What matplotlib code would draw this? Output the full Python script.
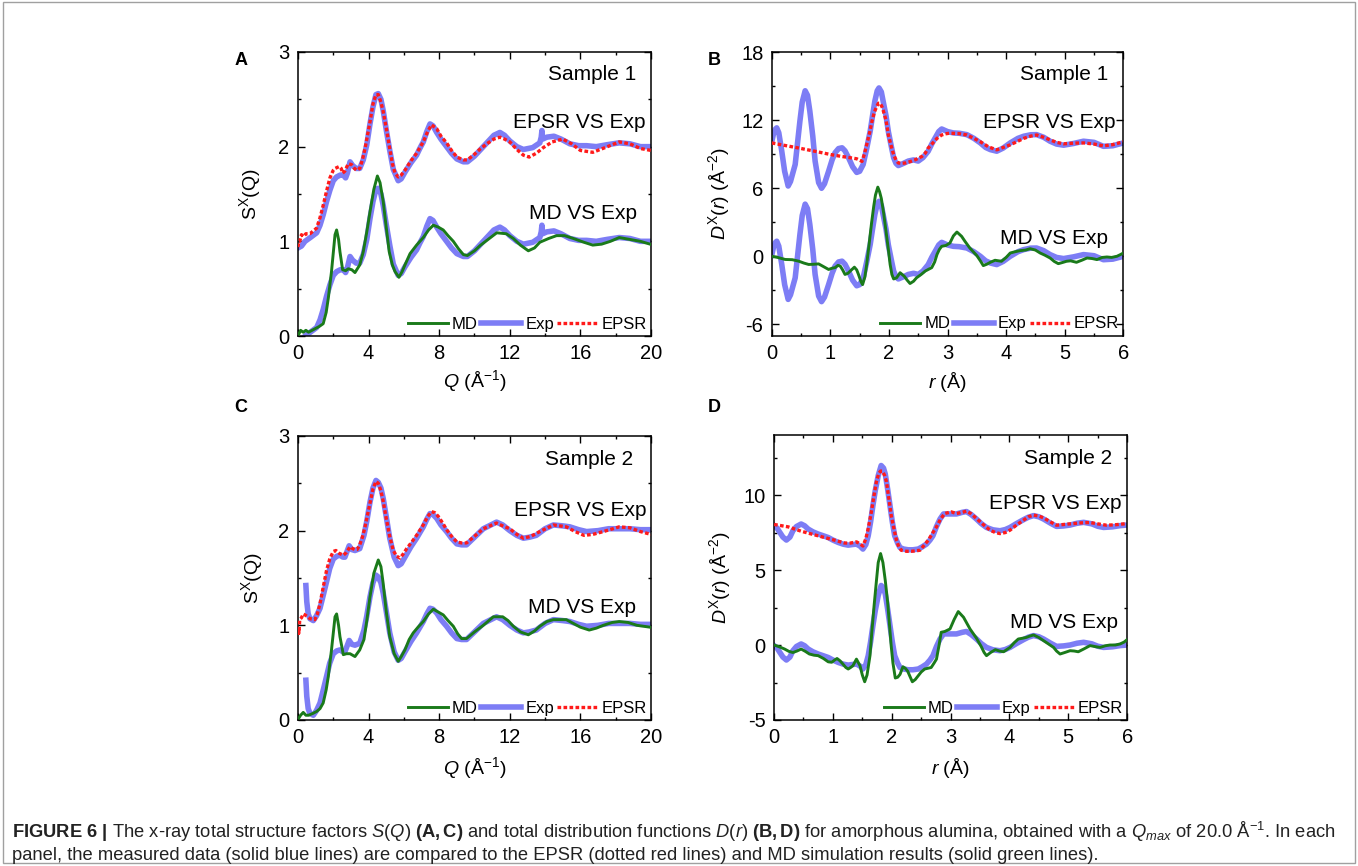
# -*- coding: utf-8 -*-
import numpy as np
import matplotlib
matplotlib.use('Agg')
import matplotlib.pyplot as plt
from matplotlib.patches import Rectangle
from matplotlib.ticker import MultipleLocator, AutoMinorLocator

### data: (x, y) pairs, upper curves are shifted by an offset

# S(Q), sample 1
md_A = np.array([
    (0.05, 0.02), (0.15, 0.06), (0.3, 0.04), (0.45, 0.06), (0.6, 0.04), (0.8, 0.06),
    (1.0, 0.08), (1.2, 0.10), (1.43, 0.13), (1.6, 0.25), (1.72, 0.40), (1.9, 0.68),
    (2.1, 1.07), (2.19, 1.12), (2.3, 1.02), (2.38, 0.89), (2.53, 0.70), (2.7, 0.69),
    (2.85, 0.71), (3.05, 0.70), (3.23, 0.67), (3.5, 0.75), (3.7, 0.89), (3.9, 1.10),
    (4.08, 1.31), (4.3, 1.55), (4.5, 1.69), (4.65, 1.62), (4.83, 1.42), (5.0, 1.15),
    (5.17, 0.89), (5.35, 0.75), (5.5, 0.68), (5.72, 0.62), (5.9, 0.68), (6.06, 0.75),
    (6.35, 0.87), (6.72, 0.96), (7.1, 1.04), (7.4, 1.12), (7.67, 1.17), (7.95, 1.15),
    (8.23, 1.12), (8.5, 1.06), (8.8, 1.00), (9.1, 0.92), (9.37, 0.86), (9.6, 0.85),
    (10.0, 0.90), (10.35, 0.96), (10.7, 1.01), (11.26, 1.09), (11.8, 1.08), (12.2, 1.03),
    (12.6, 0.96), (13.05, 0.90), (13.4, 0.93), (13.7, 0.99), (14.2, 1.03), (14.65, 1.06),
    (15.1, 1.06), (15.6, 1.03), (16.2, 0.99), (16.7, 0.96), (17.2, 0.97), (17.7, 1.00),
    (18.2, 1.04), (18.8, 1.02), (19.4, 1.00), (19.95, 0.97)])
exp_A = np.array([
    (0.0, -0.07), (0.2, -0.05), (0.4, 0.0), (0.7, 0.04), (1.06, 0.09), (1.25, 0.17),
    (1.43, 0.28), (1.62, 0.42), (1.81, 0.54), (2.0, 0.64), (2.19, 0.68), (2.4, 0.70),
    (2.57, 0.70), (2.7, 0.67), (2.8, 0.72), (2.95, 0.84), (3.1, 0.80), (3.3, 0.77),
    (3.5, 0.77), (3.7, 0.86), (3.9, 1.02), (4.08, 1.24), (4.25, 1.42), (4.42, 1.55),
    (4.55, 1.56), (4.7, 1.50), (4.83, 1.38), (5.0, 1.18), (5.2, 0.96), (5.4, 0.76),
    (5.68, 0.64), (5.85, 0.66), (6.06, 0.73), (6.4, 0.83), (6.72, 0.91), (6.9, 0.98),
    (7.1, 1.05), (7.3, 1.16), (7.48, 1.24), (7.65, 1.22), (7.86, 1.15), (8.1, 1.08),
    (8.42, 1.00), (8.7, 0.93), (9.0, 0.87), (9.37, 0.84), (9.6, 0.84), (10.0, 0.90),
    (10.35, 0.97), (10.7, 1.04), (11.1, 1.12), (11.44, 1.15), (11.7, 1.12), (12.0, 1.06),
    (12.4, 1.00), (12.77, 0.97), (13.3, 0.99), (13.7, 1.04), (13.78, 1.10), (13.82, 1.17),
    (13.86, 1.08), (14.1, 1.10), (14.5, 1.11), (14.9, 1.08), (15.4, 1.03), (15.9, 1.01),
    (16.35, 1.01), (16.9, 1.00), (17.5, 1.02), (18.2, 1.04), (18.8, 1.03), (19.4, 1.00),
    (20.0, 1.00)])
epsr_A = np.array([
    (0.0, -0.06), (0.05, 0.0), (0.1, 0.0), (0.2, 0.07), (0.3, 0.05), (0.45, 0.08),
    (0.68, 0.08), (1.06, 0.14), (1.25, 0.25), (1.43, 0.38), (1.62, 0.53), (1.81, 0.67),
    (2.0, 0.75), (2.1, 0.77), (2.34, 0.79), (2.45, 0.77), (2.53, 0.72), (2.65, 0.74),
    (2.85, 0.82), (3.04, 0.81), (3.2, 0.77), (3.32, 0.75), (3.5, 0.77), (3.65, 0.86),
    (3.8, 0.98), (4.08, 1.26), (4.25, 1.45), (4.42, 1.55), (4.55, 1.55), (4.7, 1.47),
    (4.83, 1.37), (5.0, 1.20), (5.2, 0.98), (5.35, 0.82), (5.5, 0.72), (5.68, 0.68),
    (5.85, 0.70), (6.06, 0.75), (6.4, 0.85), (6.72, 0.93), (7.1, 1.05), (7.35, 1.16),
    (7.57, 1.23), (7.86, 1.19), (8.1, 1.11), (8.42, 1.04), (8.7, 0.96), (9.0, 0.89),
    (9.37, 0.86), (9.6, 0.86), (10.0, 0.92), (10.35, 0.98), (10.7, 1.03), (11.1, 1.08),
    (11.44, 1.10), (11.7, 1.08), (12.0, 1.05), (12.4, 0.97), (12.77, 0.91), (13.1, 0.89),
    (13.5, 0.93), (13.9, 0.99), (14.4, 1.05), (15.0, 1.08), (15.5, 1.03), (16.0, 0.96),
    (16.7, 0.94), (17.4, 0.99), (18.2, 1.05), (18.8, 1.03), (19.4, 0.98), (20.0, 0.96)])

# D(r), sample 1
md_B = np.array([
    (0.0, 0.0), (0.1, -0.1), (0.23, -0.28), (0.35, -0.3), (0.46, -0.43), (0.55, -0.6),
    (0.63, -0.72), (0.72, -0.7), (0.8, -0.67), (0.88, -0.9), (0.97, -1.16), (1.03, -1.05),
    (1.08, -1.0), (1.13, -0.8), (1.17, -0.87), (1.21, -1.2), (1.25, -1.6), (1.3, -1.5),
    (1.34, -1.3), (1.41, -0.96), (1.45, -1.2), (1.48, -1.6), (1.52, -2.2), (1.55, -2.5),
    (1.59, -1.8), (1.62, -0.72), (1.66, 1.0), (1.7, 2.8), (1.74, 4.4), (1.77, 5.4),
    (1.81, 6.1), (1.84, 5.7), (1.87, 5.1), (1.91, 3.8), (1.95, 2.2), (1.99, 0.6),
    (2.02, -0.72), (2.05, -1.6), (2.08, -2.0), (2.13, -1.9), (2.19, -1.45), (2.26, -1.75),
    (2.31, -2.1), (2.36, -2.4), (2.42, -2.2), (2.47, -1.9), (2.55, -1.6), (2.62, -1.3),
    (2.73, -1.0), (2.78, -0.5), (2.82, 0.16), (2.86, 0.6), (2.9, 0.88), (2.97, 0.95),
    (3.04, 1.17), (3.1, 1.8), (3.16, 2.14), (3.24, 1.76), (3.3, 1.3), (3.38, 0.73),
    (3.5, 0.06), (3.56, -0.4), (3.61, -0.82), (3.67, -0.7), (3.73, -0.53), (3.81, -0.35),
    (3.92, -0.44), (4.0, -0.1), (4.07, 0.29), (4.15, 0.4), (4.24, 0.5), (4.33, 0.55),
    (4.41, 0.67), (4.5, 0.55), (4.58, 0.29), (4.66, 0.1), (4.75, -0.15), (4.82, -0.45),
    (4.89, -0.65), (4.96, -0.55), (5.03, -0.44), (5.1, -0.4), (5.2, -0.53), (5.29, -0.35),
    (5.38, -0.15), (5.47, -0.2), (5.55, -0.29), (5.64, -0.1), (5.72, -0.06), (5.8, -0.1),
    (5.89, 0.0), (5.95, 0.15), (6.0, 0.29)])
exp_B = np.array([
    (0.0, 0.1), (0.03, 0.8), (0.06, 1.2), (0.085, 1.33), (0.12, 0.9), (0.17, -0.7),
    (0.22, -2.5), (0.28, -3.8), (0.32, -3.4), (0.4, -1.9), (0.44, 0.0), (0.48, 1.9),
    (0.52, 3.6), (0.57, 4.6), (0.61, 4.2), (0.65, 2.8), (0.7, 0.6), (0.74, -1.6),
    (0.8, -3.5), (0.85, -4.0), (0.9, -3.6), (0.97, -2.5), (1.03, -1.5), (1.08, -0.87),
    (1.14, -0.5), (1.2, -0.43), (1.25, -0.7), (1.31, -1.3), (1.38, -2.1), (1.45, -2.6),
    (1.5, -2.5), (1.56, -1.9), (1.62, -0.5), (1.68, 1.04), (1.72, 2.4), (1.76, 3.7),
    (1.8, 4.6), (1.83, 4.85), (1.87, 4.5), (1.9, 3.7), (1.95, 2.4), (1.99, 1.0),
    (2.04, -0.3), (2.08, -1.3), (2.12, -1.8), (2.16, -2.0), (2.25, -1.8), (2.33, -1.6),
    (2.42, -1.5), (2.5, -1.6), (2.58, -1.3), (2.67, -0.73), (2.73, -0.1), (2.79, 0.45),
    (2.85, 1.0), (2.9, 1.23), (3.0, 1.0), (3.1, 0.88), (3.2, 0.85), (3.33, 0.73),
    (3.45, 0.4), (3.56, 0.0), (3.65, -0.4), (3.73, -0.59), (3.84, -0.73), (3.95, -0.45),
    (4.07, 0.0), (4.2, 0.4), (4.3, 0.59), (4.42, 0.72), (4.52, 0.73), (4.64, 0.5),
    (4.75, 0.15), (4.86, -0.1), (4.98, -0.2), (5.15, -0.05), (5.32, 0.15), (5.5, 0.05),
    (5.66, -0.3), (5.82, -0.25), (6.0, 0.0)])
epsr_B = np.array([
    (0.0, 0.0), (0.2, -0.2), (0.46, -0.45), (0.75, -0.75), (1.02, -1.04), (1.2, -1.2),
    (1.37, -1.33), (1.45, -1.4), (1.54, -1.63), (1.58, -1.0), (1.62, -0.16), (1.67, 0.9),
    (1.71, 1.9), (1.75, 2.7), (1.79, 3.2), (1.82, 3.5), (1.85, 3.5), (1.88, 3.2),
    (1.9, 2.9), (1.95, 2.0), (1.99, 0.7), (2.04, -0.3), (2.08, -1.04), (2.12, -1.5),
    (2.16, -1.77), (2.22, -1.8), (2.28, -1.77), (2.36, -1.65), (2.45, -1.48), (2.56, -1.2),
    (2.62, -0.9), (2.67, -0.45), (2.75, 0.0), (2.82, 0.4), (2.9, 0.7), (2.96, 0.8),
    (3.04, 0.86), (3.2, 0.82), (3.33, 0.7), (3.45, 0.4), (3.56, 0.1), (3.7, -0.35),
    (3.84, -0.61), (3.95, -0.4), (4.07, -0.17), (4.2, 0.15), (4.3, 0.4), (4.42, 0.6),
    (4.52, 0.7), (4.64, 0.5), (4.75, 0.27), (4.86, 0.05), (4.98, -0.08), (5.15, -0.02),
    (5.32, 0.0), (5.5, -0.1), (5.66, -0.26), (5.82, -0.15), (6.0, 0.1)])

# S(Q), sample 2
md_C = np.array([
    (0.05, 0.02), (0.15, 0.05), (0.3, 0.08), (0.45, 0.05), (0.6, 0.05), (0.85, 0.07),
    (1.06, 0.09), (1.25, 0.12), (1.43, 0.18), (1.6, 0.32), (1.72, 0.46), (1.9, 0.74),
    (2.1, 1.09), (2.19, 1.12), (2.3, 1.00), (2.38, 0.88), (2.57, 0.69), (2.75, 0.70),
    (2.95, 0.70), (3.23, 0.67), (3.5, 0.74), (3.74, 0.85), (3.9, 1.05), (4.08, 1.30),
    (4.3, 1.55), (4.55, 1.69), (4.7, 1.62), (4.83, 1.44), (5.0, 1.15), (5.2, 0.88),
    (5.45, 0.70), (5.68, 0.62), (5.85, 0.67), (6.06, 0.74), (6.3, 0.85), (6.53, 0.92),
    (6.8, 0.98), (7.1, 1.04), (7.4, 1.12), (7.67, 1.17), (7.95, 1.14), (8.23, 1.11),
    (8.5, 1.05), (8.8, 0.99), (9.05, 0.91), (9.27, 0.86), (9.55, 0.86), (10.0, 0.93),
    (10.5, 1.00), (11.07, 1.09), (11.6, 1.09), (11.9, 1.05), (12.2, 0.99), (12.6, 0.93),
    (13.05, 0.90), (13.4, 0.94), (13.7, 0.99), (14.1, 1.04), (14.47, 1.06), (15.2, 1.06),
    (15.6, 1.02), (16.0, 0.98), (16.5, 0.95), (16.9, 0.97), (17.3, 1.00), (17.8, 1.03),
    (18.2, 1.04), (18.7, 1.03), (19.2, 1.00), (19.95, 0.98)])
exp_C = np.array([
    (0.45, 0.42), (0.5, 0.25), (0.58, 0.12), (0.68, 0.07), (0.87, 0.05), (1.05, 0.10),
    (1.25, 0.18), (1.45, 0.33), (1.62, 0.46), (1.8, 0.60), (2.0, 0.70), (2.2, 0.73),
    (2.38, 0.74), (2.55, 0.72), (2.66, 0.72), (2.78, 0.78), (2.9, 0.84), (3.05, 0.80),
    (3.23, 0.79), (3.5, 0.81), (3.74, 0.95), (3.9, 1.10), (4.08, 1.30), (4.25, 1.45),
    (4.42, 1.53), (4.55, 1.51), (4.7, 1.45), (4.83, 1.34), (5.0, 1.15), (5.2, 0.92),
    (5.45, 0.72), (5.68, 0.63), (5.85, 0.65), (6.06, 0.72), (6.4, 0.83), (6.72, 0.92),
    (7.1, 1.04), (7.3, 1.12), (7.48, 1.18), (7.65, 1.17), (7.86, 1.13), (8.1, 1.06),
    (8.42, 0.99), (8.7, 0.92), (9.0, 0.86), (9.27, 0.85), (9.55, 0.85), (10.0, 0.93),
    (10.5, 1.02), (11.25, 1.09), (11.6, 1.06), (12.0, 1.00), (12.4, 0.95), (12.77, 0.92),
    (13.1, 0.93), (13.5, 0.95), (14.0, 1.02), (14.47, 1.06), (15.0, 1.05), (15.4, 1.04),
    (15.9, 1.01), (16.35, 0.99), (17.0, 1.00), (17.6, 1.02), (18.2, 1.02), (18.8, 1.02),
    (19.4, 1.01), (20.0, 1.01)])
epsr_C = np.array([
    (0.0, -0.1), (0.03, -0.04), (0.06, -0.08), (0.1, 0.06), (0.2, 0.08), (0.3, 0.12),
    (0.4, 0.11), (0.55, 0.09), (0.68, 0.07), (0.96, 0.06), (1.1, 0.12), (1.25, 0.23),
    (1.45, 0.42), (1.62, 0.58), (1.8, 0.70), (2.0, 0.78), (2.15, 0.79), (2.34, 0.76),
    (2.57, 0.74), (2.75, 0.77), (2.95, 0.83), (3.1, 0.81), (3.23, 0.80), (3.35, 0.80),
    (3.5, 0.85), (3.65, 0.93), (3.8, 1.04), (4.08, 1.29), (4.25, 1.44), (4.42, 1.52),
    (4.55, 1.50), (4.7, 1.42), (4.83, 1.31), (5.0, 1.13), (5.2, 0.94), (5.4, 0.79),
    (5.59, 0.73), (5.78, 0.71), (5.95, 0.75), (6.16, 0.81), (6.45, 0.88), (6.72, 0.95),
    (7.1, 1.06), (7.35, 1.15), (7.57, 1.20), (7.75, 1.19), (7.95, 1.15), (8.2, 1.08),
    (8.42, 1.01), (8.7, 0.94), (9.0, 0.88), (9.27, 0.87), (9.55, 0.87), (10.0, 0.94),
    (10.5, 1.02), (11.25, 1.08), (11.6, 1.05), (12.0, 1.02), (12.4, 0.96), (12.77, 0.92),
    (13.2, 0.94), (13.7, 0.99), (14.47, 1.06), (15.2, 1.04), (15.7, 0.99), (16.2, 0.95),
    (16.7, 0.96), (17.3, 0.99), (18.2, 1.04), (18.8, 1.03), (19.4, 0.99), (20.0, 0.96)])

# D(r), sample 2
md_D = np.array([
    (0.0, 0.0), (0.09, -0.12), (0.18, -0.27), (0.25, -0.42), (0.32, -0.5), (0.39, -0.4),
    (0.46, -0.27), (0.53, -0.42), (0.6, -0.6), (0.68, -0.68), (0.75, -0.71), (0.84, -0.9),
    (0.92, -1.12), (0.98, -1.15), (1.03, -1.0), (1.07, -0.9), (1.12, -1.05), (1.17, -1.27),
    (1.22, -1.5), (1.26, -1.6), (1.3, -1.5), (1.34, -1.38), (1.4, -0.94), (1.46, -1.38),
    (1.5, -2.0), (1.54, -2.45), (1.58, -2.0), (1.63, -0.71), (1.66, 0.8), (1.7, 2.63),
    (1.74, 4.3), (1.77, 5.5), (1.81, 6.1), (1.85, 5.5), (1.89, 4.3), (1.93, 2.86),
    (1.96, 1.4), (1.99, -0.04), (2.02, -1.2), (2.06, -2.2), (2.1, -2.15), (2.14, -1.96),
    (2.19, -1.45), (2.23, -1.55), (2.27, -1.74), (2.31, -2.1), (2.35, -2.45), (2.4, -2.3),
    (2.45, -2.05), (2.5, -1.8), (2.56, -1.6), (2.67, -1.5), (2.72, -1.2), (2.76, -0.94),
    (2.8, -0.1), (2.84, 0.85), (2.9, 0.9), (2.99, 1.07), (3.06, 1.7), (3.13, 2.23),
    (3.22, 1.85), (3.33, 1.07), (3.44, 0.45), (3.52, -0.1), (3.57, -0.5), (3.61, -0.71),
    (3.68, -0.5), (3.76, -0.31), (3.83, -0.4), (3.9, -0.45), (4.01, -0.16), (4.08, 0.15),
    (4.15, 0.4), (4.22, 0.45), (4.29, 0.51), (4.35, 0.6), (4.41, 0.67), (4.5, 0.5),
    (4.58, 0.29), (4.66, 0.08), (4.75, -0.16), (4.8, -0.4), (4.86, -0.6), (4.94, -0.5),
    (5.03, -0.38), (5.1, -0.4), (5.17, -0.45), (5.27, -0.25), (5.37, -0.04), (5.45, -0.1),
    (5.54, -0.16), (5.63, -0.05), (5.71, 0.0), (5.8, 0.0), (5.88, 0.07), (5.95, 0.2),
    (6.0, 0.36)])
exp_D = np.array([
    (0.0, -0.04), (0.05, -0.2), (0.1, -0.5), (0.15, -0.8), (0.21, -1.0), (0.27, -0.8),
    (0.32, -0.38), (0.38, -0.1), (0.46, 0.07), (0.52, -0.05), (0.58, -0.27), (0.66, -0.45),
    (0.75, -0.6), (0.84, -0.72), (0.92, -0.83), (1.0, -1.0), (1.09, -1.16), (1.18, -1.28),
    (1.26, -1.34), (1.33, -1.3), (1.4, -1.27), (1.46, -1.4), (1.51, -1.6), (1.56, -1.3),
    (1.6, -0.71), (1.64, 0.2), (1.68, 1.3), (1.72, 2.3), (1.77, 3.3), (1.82, 3.97),
    (1.86, 3.8), (1.89, 3.4), (1.93, 2.4), (1.97, 1.3), (2.01, 0.2), (2.05, -0.71),
    (2.1, -1.2), (2.14, -1.5), (2.2, -1.6), (2.28, -1.65), (2.36, -1.65), (2.45, -1.6),
    (2.52, -1.45), (2.59, -1.27), (2.65, -1.0), (2.7, -0.71), (2.76, -0.1), (2.82, 0.4),
    (2.88, 0.74), (3.0, 0.74), (3.1, 0.74), (3.2, 0.85), (3.27, 0.9), (3.35, 0.7),
    (3.44, 0.4), (3.52, 0.1), (3.61, -0.16), (3.72, -0.32), (3.84, -0.38), (3.93, -0.3),
    (4.01, -0.16), (4.12, 0.1), (4.24, 0.36), (4.32, 0.52), (4.41, 0.63), (4.5, 0.55),
    (4.58, 0.4), (4.7, 0.12), (4.8, -0.09), (4.92, -0.06), (5.03, 0.0), (5.15, 0.12),
    (5.26, 0.18), (5.4, 0.08), (5.5, -0.08), (5.6, -0.16), (5.75, -0.12), (5.88, -0.04),
    (6.0, 0.0)])
epsr_D = np.array([
    (0.0, 0.04), (0.24, -0.12), (0.46, -0.41), (0.75, -0.72), (1.03, -1.01), (1.2, -1.2),
    (1.3, -1.2), (1.4, -1.12), (1.46, -1.25), (1.51, -1.4), (1.56, -0.9), (1.6, -0.23),
    (1.65, 0.8), (1.7, 2.0), (1.74, 2.9), (1.78, 3.45), (1.81, 3.6), (1.84, 3.6),
    (1.88, 3.3), (1.91, 2.9), (1.95, 1.8), (1.99, 0.66), (2.04, -0.3), (2.08, -1.01),
    (2.12, -1.45), (2.16, -1.68), (2.25, -1.75), (2.33, -1.75), (2.41, -1.72), (2.48, -1.68),
    (2.55, -1.35), (2.62, -1.01), (2.7, -0.5), (2.76, -0.12), (2.83, 0.4), (2.9, 0.77),
    (3.01, 0.88), (3.1, 0.77), (3.2, 0.85), (3.27, 0.93), (3.35, 0.75), (3.44, 0.44),
    (3.55, 0.05), (3.67, -0.34), (3.76, -0.5), (3.84, -0.57), (3.93, -0.5), (4.01, -0.34),
    (4.12, 0.0), (4.24, 0.33), (4.32, 0.55), (4.41, 0.66), (4.5, 0.6), (4.58, 0.48),
    (4.7, 0.2), (4.8, -0.01), (4.95, 0.05), (5.09, 0.1), (5.23, 0.15), (5.37, 0.17),
    (5.5, 0.08), (5.65, -0.01), (5.8, 0.02), (6.0, 0.1)])

offsets = {'A': 1.0, 'B': 10.0, 'C': 1.0, 'D': 8.0}
samples = {'A': 'Sample 1', 'B': 'Sample 1', 'C': 'Sample 2', 'D': 'Sample 2'}

caption1 = (r"$\mathbf{FIGURE\ 6\ |}$ The x-ray total structure factors $\mathit{S(Q)}$ "
            r"$\mathbf{(A,C)}$ and total distribution functions $\mathit{D(r)}$ $\mathbf{(B,D)}$ "
            r"for amorphous alumina, obtained with a $\mathit{Q_{max}}$ of 20.0 Å$^{-1}$. In each")
caption2 = ("panel, the measured data (solid blue lines) are compared to the EPSR "
            "(dotted red lines) and MD simulation results (solid green lines).")

C_MD = '#1a7a1a'
C_EXP = '#7d7df5'
C_EPSR = '#ff1a1a'

plt.rcParams['font.family'] = 'Liberation Sans'
plt.rcParams['mathtext.fontset'] = 'custom'
plt.rcParams['mathtext.rm'] = 'Liberation Sans'
plt.rcParams['mathtext.it'] = 'Liberation Sans:italic'
plt.rcParams['mathtext.bf'] = 'Liberation Sans:bold'
plt.rcParams['axes.unicode_minus'] = False


def set_axis(ax, xlim, ylim, xmaj, ymaj):
    ax.set_xlim(xlim)
    ax.set_ylim(ylim)
    ax.xaxis.set_major_locator(MultipleLocator(xmaj))
    ax.yaxis.set_major_locator(MultipleLocator(ymaj))
    ax.xaxis.set_minor_locator(AutoMinorLocator(2))
    ax.yaxis.set_minor_locator(AutoMinorLocator(2))
    ax.tick_params(which='both', direction='in', top=True, right=True,
                   labelsize=14.5, pad=6, width=1.0, colors='black')
    ax.tick_params(which='major', length=5)
    ax.tick_params(which='minor', length=2.5)
    for sp in ax.spines.values():
        sp.set_linewidth(1.1)


def plot_panel(ax, md, exp, epsr, offset):
    ax.plot(exp[:, 0], exp[:, 1] + offset, c=C_EXP, lw=4.0, zorder=2)
    l_epsr, = ax.plot(epsr[:, 0], epsr[:, 1] + offset, c=C_EPSR, lw=2.4,
                      ls=(0, (1.1, 0.7)), zorder=3, label='EPSR')
    l_exp, = ax.plot(exp[:, 0], exp[:, 1], c=C_EXP, lw=4.0, zorder=2, label='Exp')
    l_md, = ax.plot(md[:, 0], md[:, 1], c=C_MD, lw=2.1, zorder=3, label='MD')
    ax.legend(handles=[l_md, l_exp, l_epsr], loc='lower right', ncol=3,
              frameon=False, fontsize=12, handlelength=2.4, handletextpad=0.25,
              columnspacing=0.2, borderpad=0.1, borderaxespad=0.15)


def add_texts(ax, sample, pos):
    for s, (x, y) in zip([sample, 'EPSR VS Exp', 'MD VS Exp'], pos):
        ax.text(x, y, s, transform=ax.transAxes, ha='right', va='center', fontsize=15)


fig = plt.figure(figsize=(13.58, 8.66), dpi=100)

axA = fig.add_axes([0.2194, 0.612, 0.260, 0.328])
axB = fig.add_axes([0.5683, 0.6124, 0.2589, 0.3273])
axC = fig.add_axes([0.2194, 0.1686, 0.260, 0.328])
axD = fig.add_axes([0.5700, 0.1686, 0.260, 0.329])

plot_panel(axA, md_A, exp_A, epsr_A, offsets['A'])
plot_panel(axB, md_B, exp_B, epsr_B, offsets['B'])
plot_panel(axC, md_C, exp_C, epsr_C, offsets['C'])
plot_panel(axD, md_D, exp_D, epsr_D, offsets['D'])

set_axis(axA, (0, 20), (0, 3), 4, 1)
set_axis(axB, (0, 6), (-7, 18), 1, 6)
set_axis(axC, (0, 20), (0, 3), 4, 1)
set_axis(axD, (0, 6), (-5, 14), 1, 5)

add_texts(axA, samples['A'], [(0.959, 0.921), (0.984, 0.75), (0.96, 0.433)])
add_texts(axB, samples['B'], [(0.957, 0.92), (0.979, 0.752), (0.957, 0.344)])
add_texts(axC, samples['C'], [(0.95, 0.918), (0.986, 0.736), (0.957, 0.397)])
add_texts(axD, samples['D'], [(0.957, 0.918), (0.983, 0.76), (0.975, 0.341)])

for ax in (axA, axC):
    ax.set_ylabel(r'S$^{\mathrm{X}}$(Q)', fontsize=14)
    ax.set_xlabel(r'$\mathit{Q}$ (Å$^{-1}$)', fontsize=14)
for ax in (axB, axD):
    ax.set_ylabel(r'$\mathit{D}^{\mathrm{X}}(\mathit{r})$ (Å$^{-2}$)', fontsize=14)
    ax.set_xlabel(r'$\mathit{r}$ (Å)', fontsize=14)

axA.yaxis.set_label_coords(-0.099, 0.5)
axB.yaxis.set_label_coords(-0.114, 0.5)
axC.yaxis.set_label_coords(-0.093, 0.5)
axD.yaxis.set_label_coords(-0.116, 0.5)
axA.xaxis.set_label_coords(0.5, -0.113)
axB.xaxis.set_label_coords(0.5, -0.121)
axC.xaxis.set_label_coords(0.5, -0.125)
axD.xaxis.set_label_coords(0.5, -0.125)

for lab, (x, y) in zip('ABCD', [(0.1775, 0.9296), (0.5258, 0.9296),
                                 (0.1775, 0.5289), (0.5258, 0.5289)]):
    fig.text(x, y, lab, ha='center', va='center', fontsize=13, fontweight='bold')

fig.text(0.0088, 1 - 832 / 866, caption1, ha='left', va='center', fontsize=13.2, color='#222222')
fig.text(0.0088, 1 - 855 / 866, caption2, ha='left', va='center', fontsize=13.2, color='#222222')

fig.patches.append(Rectangle((0.002, 0.004), 0.996, 0.994, transform=fig.transFigure,
                             fill=False, ec='#a0a0a0', lw=1.0))

fig.savefig('out.png', dpi=100)
